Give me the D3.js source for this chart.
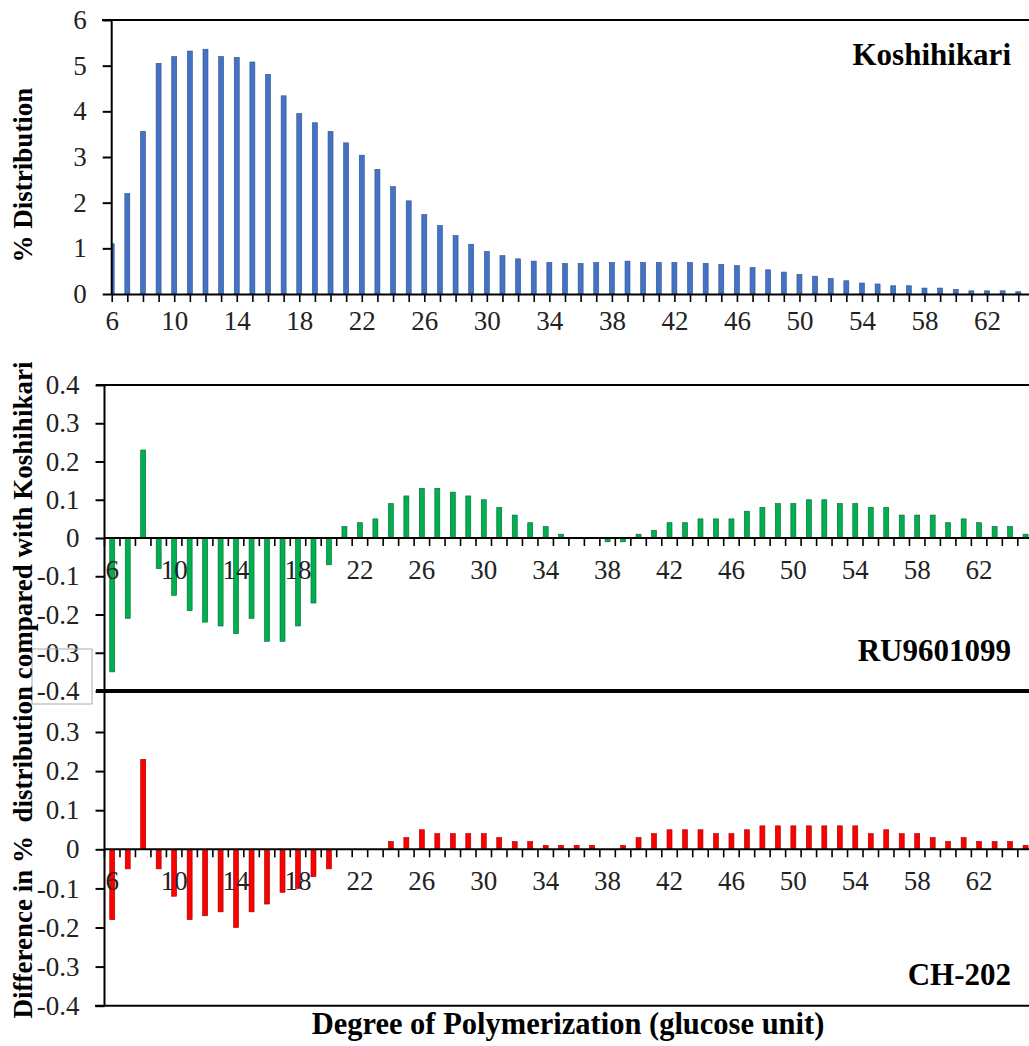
<!DOCTYPE html>
<html>
<head>
<meta charset="utf-8">
<script src="https://cdn.jsdelivr.net/npm/d3@7"></script>
<style>
  body { margin: 0; background: #fff; }
  svg { display: block; }
  svg text { font-family: "Liberation Serif", "Times New Roman", serif; }
</style>
</head>
<body>
<svg id="paper"></svg>
<script>
(function () {
    // degree of polymerization, DP6..DP65
    var dp = d3.range(6, 66);
    var dpLabels = [6, 10, 14, 18, 22, 26, 30, 34, 38, 42, 46, 50, 54, 58, 62];

    // % distribution of Koshihikari
    var koshihikari = [1.1, 2.2, 3.56, 5.05, 5.2, 5.32, 5.36, 5.2, 5.18, 5.08,
        4.81, 4.34, 3.95, 3.75, 3.56, 3.31, 3.04, 2.73, 2.35, 2.04,
        1.74, 1.5, 1.28, 1.09, 0.93, 0.84, 0.77, 0.72, 0.69, 0.67,
        0.67, 0.69, 0.69, 0.72, 0.69, 0.69, 0.69, 0.69, 0.67, 0.65,
        0.62, 0.58, 0.53, 0.48, 0.43, 0.39, 0.34, 0.29, 0.24, 0.22,
        0.18, 0.18, 0.13, 0.13, 0.1, 0.07, 0.07, 0.07, 0.05, 0.04];

    // difference compared with Koshihikari
    var ru9601099 = [-0.35, -0.21, 0.23, -0.08, -0.15, -0.19, -0.22, -0.23, -0.25, -0.21,
        -0.27, -0.27, -0.23, -0.17, -0.07, 0.03, 0.04, 0.05, 0.09, 0.11,
        0.13, 0.13, 0.12, 0.11, 0.10, 0.08, 0.06, 0.04, 0.03, 0.01,
        0, 0, -0.01, -0.01, 0.01, 0.02, 0.04, 0.04, 0.05, 0.05,
        0.05, 0.07, 0.08, 0.09, 0.09, 0.10, 0.10, 0.09, 0.09, 0.08,
        0.08, 0.06, 0.06, 0.06, 0.04, 0.05, 0.04, 0.03, 0.03, 0.01];
    var ch202 = [-0.18, -0.05, 0.23, -0.05, -0.12, -0.18, -0.17, -0.16, -0.20, -0.16,
        -0.14, -0.11, -0.10, -0.07, -0.05, 0, 0, 0, 0.02, 0.03,
        0.05, 0.04, 0.04, 0.04, 0.04, 0.03, 0.02, 0.02, 0.01, 0.01,
        0.01, 0.01, 0, 0.01, 0.03, 0.04, 0.05, 0.05, 0.05, 0.04,
        0.04, 0.05, 0.06, 0.06, 0.06, 0.06, 0.06, 0.06, 0.06, 0.04,
        0.05, 0.04, 0.04, 0.03, 0.02, 0.03, 0.02, 0.02, 0.02, 0.01];

    var topTicks = [0, 1, 2, 3, 4, 5, 6];
    var diffTicks = [0.4, 0.3, 0.2, 0.1, 0, -0.1, -0.2, -0.3, -0.4];
    var diffTicksLow = [0.3, 0.2, 0.1, 0, -0.1, -0.2, -0.3, -0.4];

    var width = 1029, height = 1046;
    var svg = d3.select('#paper')
        .attr('width', width)
        .attr('height', height);

    var fmt = function (d) { return String(+d.toFixed(1)); };
    var barW = 5;
    var tickFont = 27;

    // ---------- top panel ----------
    var xTop = d3.scalePoint().domain(dp).range([111.7, 1033.9]);
    var yTop = d3.scaleLinear().domain([0, 6]).range([294, 20]);

    svg.append('clipPath').attr('id', 'clipTop')
        .append('rect')
        .attr('x', xTop(6)).attr('y', 0)
        .attr('width', width).attr('height', 300);

    svg.append('g').attr('clip-path', 'url(#clipTop)')
        .selectAll('rect')
        .data(dp)
        .enter().append('rect')
        .attr('x', function (d) { return xTop(d) - barW / 2; })
        .attr('y', function (d, i) { return yTop(koshihikari[i]); })
        .attr('width', barW)
        .attr('height', function (d, i) { return yTop(0) - yTop(koshihikari[i]); })
        .attr('fill', '#4472c4')
        .attr('stroke', '#2f4f8f')
        .attr('stroke-width', 0.6);

    // top border
    svg.append('line')
        .attr('x1', 102).attr('x2', width)
        .attr('y1', yTop(6)).attr('y2', yTop(6))
        .attr('stroke', '#000').attr('stroke-width', 2);

    var axTopX = svg.append('g')
        .attr('transform', 'translate(0,' + yTop(0) + ')')
        .call(d3.axisBottom(xTop).tickValues(dp).tickSize(8).tickSizeOuter(0)
            .tickFormat(function (d) { return dpLabels.indexOf(d) >= 0 ? d : ''; }));

    var axTopY = svg.append('g')
        .attr('transform', 'translate(' + xTop(6) + ',0)')
        .call(d3.axisLeft(yTop).tickValues(topTicks).tickSize(9).tickSizeOuter(0)
            .tickFormat(fmt));

    // ---------- lower panels ----------
    var xBand = d3.scaleBand().domain(dp).range([104.5, 1033.3]).padding(0);
    var yMid = d3.scaleLinear().domain([-0.4, 0.4]).range([691, 385]);
    var yLow = d3.scaleLinear().domain([-0.4, 0.4]).range([1005.7, 692.9]);

    function diffPanel(values, y, fill, stroke, ticks, name, nameY) {
        var x0 = xBand.range()[0];

        svg.append('g').selectAll('rect')
            .data(dp)
            .enter().append('rect')
            .attr('x', function (d) { return xBand(d) + xBand.bandwidth() / 2 - barW / 2; })
            .attr('y', function (d, i) { return y(Math.max(0, values[i])); })
            .attr('width', barW)
            .attr('height', function (d, i) { return Math.abs(y(values[i]) - y(0)); })
            .attr('fill', fill)
            .attr('stroke', stroke)
            .attr('stroke-width', 0.6);

        // zero line with ticks between categories
        var g = svg.append('g');
        g.append('line')
            .attr('x1', x0).attr('x2', width)
            .attr('y1', y(0)).attr('y2', y(0))
            .attr('stroke', '#000').attr('stroke-width', 2);
        g.selectAll('.tk')
            .data(dp.concat([dp[dp.length - 1] + 1]))
            .enter().append('line')
            .attr('x1', function (d, i) { return x0 + i * xBand.step(); })
            .attr('x2', function (d, i) { return x0 + i * xBand.step(); })
            .attr('y1', y(0)).attr('y2', y(0) + 8)
            .attr('stroke', '#000').attr('stroke-width', 1.6);
        g.selectAll('text')
            .data(dpLabels)
            .enter().append('text')
            .attr('x', function (d) { return xBand(d) + xBand.bandwidth() / 2; })
            .attr('y', y(0) + 41)
            .attr('text-anchor', 'middle')
            .attr('font-size', tickFont)
            .attr('fill', '#222')
            .text(function (d) { return d; });

        svg.append('g')
            .attr('transform', 'translate(' + x0 + ',0)')
            .call(d3.axisLeft(y).tickValues(ticks).tickSize(9).tickSizeOuter(0).tickFormat(fmt))
            .call(function (a) {
                a.attr('font-family', null).attr('font-size', null);
                a.select('.domain').attr('d', 'M0,' + y(0.4) + 'V' + y(-0.4))
                    .attr('stroke-width', 2);
                a.selectAll('line').attr('stroke-width', 2);
                a.selectAll('text').attr('font-size', tickFont).attr('fill', '#222')
                    .attr('x', -25);
            });

        svg.append('text')
            .attr('x', 1011).attr('y', nameY)
            .attr('text-anchor', 'end')
            .attr('font-size', 31).attr('font-weight', 'bold')
            .text(name);
    }

    diffPanel(ru9601099, yMid, '#00b050', '#00662e', diffTicks, 'RU9601099', 661);
    diffPanel(ch202, yLow, '#ff0000', '#990000', diffTicksLow, 'CH-202', 985);

    // borders of lower panels
    svg.append('line').attr('x1', 96).attr('x2', width)
        .attr('y1', yMid(0.4)).attr('y2', yMid(0.4))
        .attr('stroke', '#000').attr('stroke-width', 2);
    svg.append('line').attr('x1', 96).attr('x2', width)
        .attr('y1', yMid(-0.4)).attr('y2', yMid(-0.4))
        .attr('stroke', '#000').attr('stroke-width', 4);
    svg.append('line').attr('x1', 95).attr('x2', width)
        .attr('y1', yLow(-0.4)).attr('y2', yLow(-0.4))
        .attr('stroke', '#000').attr('stroke-width', 2);

    // styling of top axes
    [axTopX, axTopY].forEach(function (a) {
        a.attr('font-family', null).attr('font-size', null);
        a.select('.domain').attr('stroke-width', 2);
        a.selectAll('line').attr('stroke-width', 2);
        a.selectAll('text').attr('font-size', tickFont).attr('fill', '#222');
    });
    axTopX.selectAll('line').attr('stroke-width', 1.6);
    axTopX.selectAll('text').attr('y', 8).attr('dy', '1.05em');
    axTopY.selectAll('text').attr('x', -25);
    axTopY.select('.domain').attr('d', 'M0,' + yTop(6) + 'V' + yTop(0));

    // series name top
    svg.append('text')
        .attr('x', 1011).attr('y', 65)
        .attr('text-anchor', 'end')
        .attr('font-size', 31).attr('font-weight', 'bold')
        .text('Koshihikari');

    // stray text box around lower tick labels
    svg.append('rect')
        .attr('x', 32).attr('y', 649).attr('width', 60).attr('height', 55)
        .attr('fill', 'none').attr('stroke', '#aaa').attr('stroke-width', 1);

    // axis titles
    svg.append('text')
        .attr('transform', 'translate(32,175) rotate(-90)')
        .attr('text-anchor', 'middle')
        .attr('font-size', 27).attr('font-weight', 'bold')
        .text('% Distribution');

    svg.append('text')
        .attr('transform', 'translate(32,690) rotate(-90)')
        .attr('text-anchor', 'middle')
        .attr('font-size', 27).attr('font-weight', 'bold')
        .style('white-space', 'pre')
        .text('Difference in %  distribution compared with Koshihikari');

    svg.append('text')
        .attr('x', 568).attr('y', 1034)
        .attr('text-anchor', 'middle')
        .attr('font-size', 30.5).attr('font-weight', 'bold')
        .text('Degree of Polymerization (glucose unit)');
})();
</script>
</body>
</html>
